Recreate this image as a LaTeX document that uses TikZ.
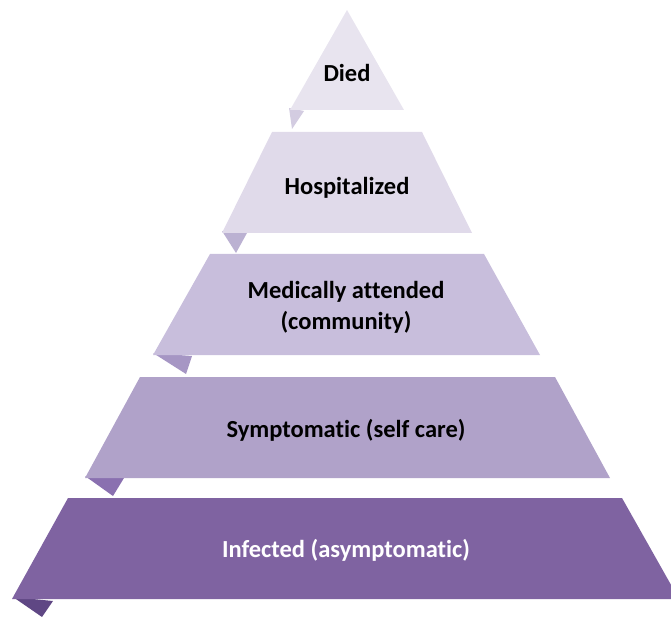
\documentclass[tikz,border=0pt]{standalone}
\usepackage{fontspec}
\setmainfont{Carlito}[Ligatures={NoCommon}]
\begin{document}
\begin{tikzpicture}[x=1pt,y=-1pt,
  lbl/.style={font=\bfseries\fontsize{24.5}{31}\selectfont, align=center, inner sep=0pt}]
\useasboundingbox (0,0) rectangle (671,617);
\clip (0,0) rectangle (671,617);
\definecolor{cA}{HTML}{E8E4EF}
\definecolor{cB}{HTML}{E0DAEA}
\definecolor{cC}{HTML}{C8BEDC}
\definecolor{cD}{HTML}{B0A2C9}
\definecolor{cE}{HTML}{7F63A1}
\definecolor{tA}{HTML}{D3CCE1}
\definecolor{tB}{HTML}{BBB1D2}
\definecolor{tC}{HTML}{A696C4}
\definecolor{tD}{HTML}{8A70B0}
\definecolor{tE}{HTML}{5F4784}
% tabs (behind bands)
\fill[tA] (289,108) -- (304,111) -- (292,129) -- cycle;
\fill[tB] (222,231) -- (247,233) -- (236,253) -- cycle;
\fill[tC] (153,353) -- (192,356) -- (186,374) -- cycle;
\fill[tD] (85,476) -- (124,478) -- (113,496) -- cycle;
\fill[tE] (13,597) -- (53,601) -- (42,617) -- cycle;
% bands
\fill[cA] (347,10) -- (404,110) -- (290,110) -- cycle;
\fill[cB] (272,132) -- (422,132) -- (472,233) -- (222,233) -- cycle;
\fill[cC] (210,254) -- (484,254) -- (540,355) -- (153,355) -- cycle;
\fill[cD] (140,377) -- (555,377) -- (610,478) -- (85,478) -- cycle;
\fill[cE] (68,498) -- (622,498) -- (679,599) -- (12,599) -- cycle;
% labels
\node[lbl] (died) at (347,73) {Died};
\node[lbl] (hosp) at (347,188) {Hospitalized};
\node[lbl] (med) at (346,307) {Medically attended\\(community)};
\node[lbl] (symp) at (346,430) {Symptomatic (self care)};
\node[lbl, text=white] (inf) at (346,550) {Infected (asymptomatic)};
\end{tikzpicture}
\end{document}
